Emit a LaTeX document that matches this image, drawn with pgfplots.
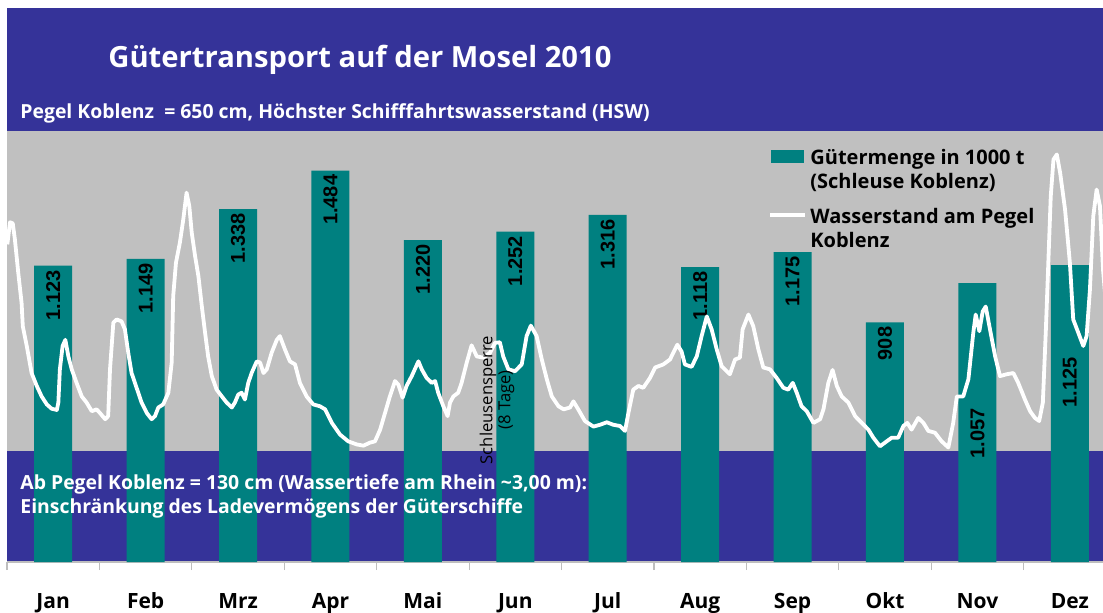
\documentclass[border=0pt]{standalone}
\usepackage{pgfplots}
\pgfplotsset{compat=1.18}
\usepackage{pgfplotstable}
\usepackage{fontspec}
\setmainfont{Open Sans}
\newfontfamily\arialf{Liberation Sans}
\newfontfamily\opensans{Open Sans}
\definecolor{bandblue}{RGB}{53,51,153}
\definecolor{bandgrey}{RGB}{192,192,192}
\definecolor{barteal}{RGB}{0,128,128}
\definecolor{axisgrey}{RGB}{190,190,190}

\pgfplotstableread{
x v ly lab
0.5 1123 1108 1.123
1.5 1149 1134 1.149
2.5 1338 1323 1.338
3.5 1484 1469 1.484
4.5 1220 1205 1.220
5.5 1252 1237 1.252
6.5 1316 1301 1.316
7.5 1118 1103 1.118
8.5 1175 1160 1.175
9.5 908 893 908
10.5 1057 584 1.057
11.5 1125 777 1.125
}\bardata

\pgfplotstableread{
d cm
0.1 466
1.0 502
1.9 500
2.6 474
3.7 420
4.8 371
5.2 333
6.5 301
8.1 257
9.8 236
11.4 219
13.1 206
14.7 199
16.4 197
16.9 209
17.4 263
18.3 301
19.2 311
20.2 284
21.3 263
22.9 241
24.6 219
26.2 209
27.9 195
29.5 198
30.6 192
32.3 182
33.3 187
33.9 263
35.0 339
36.1 344
37.7 341
38.8 328
39.9 290
41.0 257
42.1 241
43.2 225
44.3 209
46.0 192
47.6 182
48.7 187
49.8 201
51.4 206
53.1 225
54.2 274
54.7 382
55.6 436
56.9 469
58.0 506
59.1 550
60.0 528
60.8 485
61.9 447
63.0 414
64.1 366
65.2 322
66.2 284
67.4 252
69.0 230
70.7 219
72.3 209
74.0 201
75.0 209
76.1 222
77.2 225
78.3 214
79.4 241
80.5 257
82.2 276
83.3 274
84.4 257
85.5 263
87.1 290
88.8 311
89.8 317
91.5 295
93.1 276
94.8 271
96.4 241
98.6 219
100.8 206
103.0 203
104.7 198
106.9 176
109.6 157
112.3 146
115.1 141
117.3 139
119.5 144
121.1 146
122.8 165
124.4 192
126.0 219
127.7 244
128.8 238
130.2 217
131.5 236
133.2 252
135.4 276
136.5 263
138.1 249
139.8 241
140.9 244
141.9 225
143.6 203
145.0 187
145.8 209
146.9 219
148.5 225
149.6 241
151.3 274
152.9 302
154.6 284
156.8 282
159.0 290
160.6 306
162.2 307
163.3 284
165.0 263
167.2 260
169.4 271
171.0 317
172.4 334
174.3 317
176.0 279
177.7 246
179.3 219
181.5 203
183.2 198
185.3 201
186.4 211
188.0 198
190.2 179
193.0 170
195.2 173
197.4 177
199.5 173
201.7 171
203.4 163
204.5 192
206.1 230
207.8 236
209.4 233
211.6 249
213.3 266
216.0 271
218.2 279
220.6 303
222.0 292
223.1 271
225.3 267
227.0 284
228.6 317
230.3 349
231.9 328
233.6 295
235.2 268
237.9 255
239.6 279
241.2 282
242.1 328
244.0 352
245.6 333
247.3 295
248.9 266
251.1 263
253.3 249
255.5 233
257.1 230
258.6 241
259.9 225
261.5 203
263.2 195
265.4 176
267.6 182
268.7 198
270.3 241
271.7 262
273.1 236
274.7 219
276.9 209
279.1 187
281.3 176
283.5 165
285.1 152
287.3 138
289.5 146
291.2 152
293.3 152
295.0 171
296.3 176
297.7 165
299.9 184
301.6 176
303.2 163
305.4 160
307.6 146
309.8 136
311.4 176
312.6 219
314.7 219
316.4 247
318.0 322
318.8 352
320.0 325
321.1 357
322.1 365
323.5 328
325.2 284
326.8 252
329.0 255
331.2 257
332.8 241
335.0 214
336.7 195
338.3 184
339.7 179
340.9 209
341.9 328
342.7 436
343.5 544
344.4 604
345.5 612
346.6 582
348.2 523
349.8 436
350.9 344
352.6 322
354.2 301
355.3 317
356.4 393
357.5 512
358.6 555
359.7 528
360.7 425
362.0 350
365.0 300
}\pegel

\begin{document}
\begin{tikzpicture}
% background bands (water-level scale)
\begin{axis}[at={(0,0)}, anchor=south west, scale only axis,
  width=548pt, height=277pt, xmin=0, xmax=1, ymin=-50, ymax=850, hide axis]
  \fill[bandblue] (axis cs:0,-50) rectangle (axis cs:1,850);
  \fill[bandgrey] (axis cs:0,130) rectangle (axis cs:1,650);
\end{axis}
% bars
\begin{axis}[at={(0,0)}, anchor=south west, scale only axis,
  width=548pt, height=277pt, xmin=0, xmax=11.859, ymin=0, ymax=2100,
  axis y line=none, axis x line*=bottom,
  x axis line style={draw=axisgrey, line width=0.6pt, -},
  xtick={0.5,1.5,2.5,3.5,4.5,5.5,6.5,7.5,8.5,9.5,10.5,11.5},
  xticklabels={\textbf{Jan},\textbf{Feb},\textbf{Mrz},\textbf{Apr},\textbf{Mai},\textbf{Jun},\textbf{Jul},\textbf{Aug},\textbf{Sep},\textbf{Okt},\textbf{Nov},\textbf{Dez}},
  major tick length=0pt,
  minor xtick={0,1,2,3,4,5,6,7,8,9,10,11},
  minor tick length=4pt, tick align=outside,
  minor tick style={draw=axisgrey, line width=0.6pt},
  xticklabel style={anchor=base, yshift=-23pt, font=\fontsize{10.5}{13}\selectfont},
  clip=false]
  \addplot[ybar, bar width=19pt, fill=barteal, draw=none] table[x=x, y=v] {\bardata};
  \addplot[draw=none, mark=none, nodes near coords, point meta=explicit symbolic,
    every node near coord/.append style={rotate=90, anchor=east, inner sep=0pt,
      font=\arialf\bfseries\fontsize{10}{12}\selectfont, text=black}]
    table[x=x, y=ly, meta=lab] {\bardata};
\end{axis}
% water level line
\begin{axis}[at={(0,0)}, anchor=south west, scale only axis,
  width=548pt, height=277pt, xmin=0, xmax=360.7, ymin=-50, ymax=850, hide axis]
  \addplot[white, line width=1.9pt, line join=round] table[x=d, y=cm] {\pegel};
\end{axis}
% texts
\node[anchor=base west, inner sep=0pt, text=white, font=\bfseries\fontsize{14.6}{18}\selectfont] at (50.5pt,247pt) {Gütertransport auf der Mosel 2010};
\node[anchor=base west, inner sep=0pt, text=white, font=\bfseries\fontsize{9.7}{12}\selectfont] at (6.5pt,222pt) {Pegel Koblenz\ \ = 650 cm, Höchster Schifffahrtswasserstand (HSW)};
\node[anchor=base west, inner sep=0pt, text=white, font=\bfseries\fontsize{9.7}{12}\selectfont] at (6.5pt,36.5pt) {Ab Pegel Koblenz = 130 cm (Wassertiefe am Rhein \textasciitilde 3,00 m):};
\node[anchor=base west, inner sep=0pt, text=white, font=\bfseries\fontsize{9.7}{12}\selectfont] at (6.5pt,24.5pt) {Einschränkung des Ladevermögens der Güterschiffe};
% legend
\fill[barteal] (382pt,199.5pt) rectangle (398.5pt,206pt);
\draw[white, line width=1.9pt] (381.5pt,173.5pt) -- (399pt,173.5pt);
\node[anchor=base west, inner sep=0pt, font=\bfseries\fontsize{10}{12}\selectfont] at (401.5pt,199pt) {Gütermenge in 1000 t};
\node[anchor=base west, inner sep=0pt, font=\bfseries\fontsize{10}{12}\selectfont] at (401.5pt,187pt) {(Schleuse Koblenz)};
\node[anchor=base west, inner sep=0pt, font=\bfseries\fontsize{10}{12}\selectfont] at (401.5pt,169.5pt) {Wasserstand am Pegel};
\node[anchor=base west, inner sep=0pt, font=\bfseries\fontsize{10}{12}\selectfont] at (401.5pt,157.5pt) {Koblenz};
% annotation
\node[rotate=90, align=center, inner sep=0pt, font=\opensans\fontsize{8.3}{9}\selectfont] at (245pt,81pt) {Schleusensperre\\(8 Tage)};
\pgfresetboundingbox
\path[use as bounding box] (-3.5pt,-25pt) rectangle (548pt,281pt);
\end{tikzpicture}
\end{document}
